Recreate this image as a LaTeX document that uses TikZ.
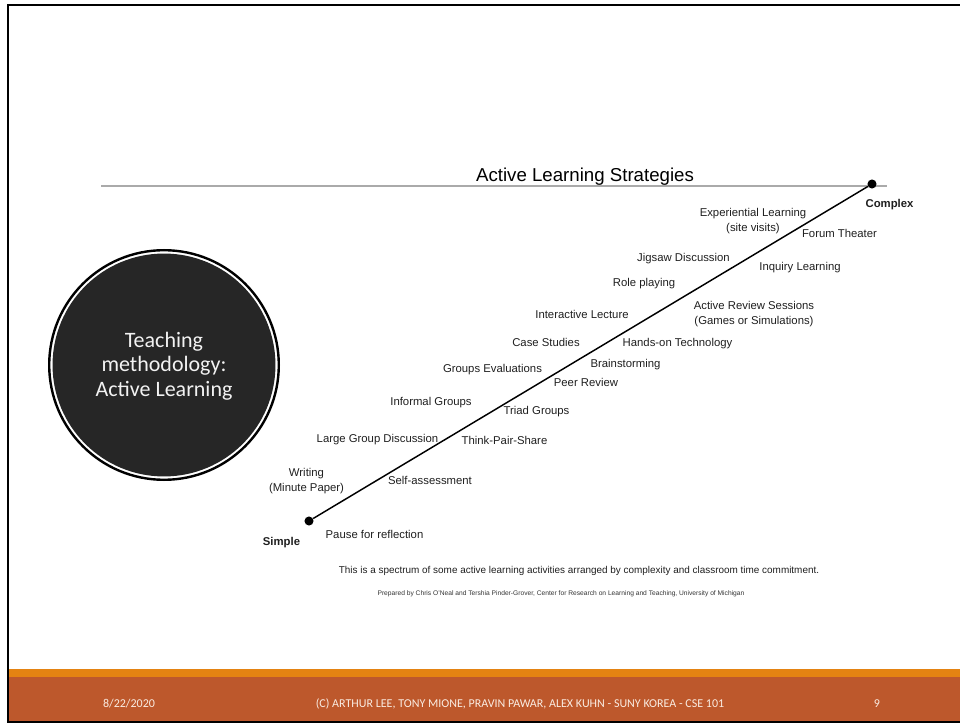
\documentclass[tikz,border=0pt]{standalone}
\usepackage{fontspec}
\setmainfont{Liberation Sans}
\newfontfamily\calibfont{Carlito}

\definecolor{barorange}{RGB}{228,131,18}
\definecolor{barrust}{RGB}{189,88,44}
\definecolor{discgray}{RGB}{38,38,38}
\definecolor{foottext}{RGB}{250,236,226}
\definecolor{rulegray}{RGB}{170,170,170}

\tikzset{
  strategy/.style={anchor=base, inner sep=0pt, align=center, text=black!88,
    font=\fontsize{8.5}{11.25}\selectfont},
  endlabel/.style={strategy, font=\fontsize{8.5}{10}\selectfont\bfseries},
  enddot/.style={circle, fill=black, inner sep=0pt, minimum size=6.8pt},
  footer/.style={anchor=base, inner sep=0pt, text=foottext,
    font=\calibfont\fontsize{9}{11}\selectfont},
}

\begin{document}
\begin{tikzpicture}[x=0.75pt,y=-0.75pt]
  \useasboundingbox (0,0) rectangle (960,723);

  % footer bar
  \fill[barorange] (8,669) rectangle (962,677);
  \fill[barrust] (8,677) rectangle (962,722);
  \node[footer] (date) at (129,707) {8/22/2020};
  \node[footer] (credit) at (520,707) {(C) ARTHUR LEE, TONY MIONE, PRAVIN PAWAR, ALEX KUHN - SUNY KOREA - CSE 101};
  \node[footer] (pageno) at (877,707) {9};

  % slide frame
  \draw[line width=1.5pt] (8,5) rectangle (962,722);

  % topic disc
  \draw[line width=1.8pt] (164,365) circle (86.1pt);
  \fill[discgray] (164,365) circle (83.6pt);
  \node[align=center, text=white!95!black, font=\calibfont\fontsize{16.5}{18.4}\selectfont]
    (topic) at (164,366) {Teaching\\methodology:\\Active Learning};

  % title and rule
  \draw[rulegray, line width=1.1pt] (101,186) -- (887,186);
  \node[anchor=base, inner sep=0pt, font=\fontsize{14}{16}\selectfont] (title) at (585,182)
    {Active Learning Strategies};

  % Drawing the spectrum from simple to complex
  \node[enddot] (simple) at (309,521) {};
  \node[enddot] (complex) at (872,184) {};
  \draw[line width=1.1pt] (simple) -- (complex);
  \node[endlabel] (simplelbl) at (281.5,545) {Simple};
  \node[endlabel] (complexlbl) at (889.5,208) {Complex};

  % Marking strategies above the line (two-line labels sit on their last line)
  \node[strategy] (writing) at (306.5,491) {Writing\\(Minute Paper)};
  \node[strategy] (largegroup) at (377.5,442) {Large Group Discussion};
  \node[strategy] (informal) at (431,406) {Informal Groups};
  \node[strategy] (groupeval) at (492.5,372.5) {Groups Evaluations};
  \node[strategy] (cases) at (546,347) {Case Studies};
  \node[strategy] (lecture) at (582,319) {Interactive Lecture};
  \node[strategy] (role) at (644,286.5) {Role playing};
  \node[strategy] (jigsaw) at (683.5,261.5) {Jigsaw Discussion};
  \node[strategy] (experiential) at (753,231.5) {Experiential Learning\\(site visits)};

  % Marking strategies below the line
  \node[strategy] (pause) at (374.5,538) {Pause for reflection};
  \node[strategy] (selfassess) at (430,484) {Self-assessment};
  \node[strategy] (tps) at (504.5,445) {Think-Pair-Share};
  \node[strategy] (triad) at (536.5,415) {Triad Groups};
  \node[strategy] (peer) at (586,387) {Peer Review};
  \node[strategy] (brainstorm) at (625.5,368) {Brainstorming};
  \node[strategy] (handson) at (677.5,346.5) {Hands-on Technology};
  \node[strategy] (review) at (754,325) {Active Review Sessions\\(Games or Simulations)};
  \node[strategy] (inquiry) at (800,270.5) {Inquiry Learning};
  \node[strategy] (forum) at (839.5,237.5) {Forum Theater};

  % notes under the spectrum
  \node[anchor=base, inner sep=0pt, text=black!88, font=\fontsize{7.45}{9}\selectfont] (spectrum) at (579,573)
    {This is a spectrum of some active learning activities arranged by complexity and classroom time commitment.};
  \node[anchor=base, inner sep=0pt, text=black!80, font=\fontsize{5}{6}\selectfont] (prepared) at (561,595)
    {Prepared by Chris O'Neal and Tershia Pinder-Grover, Center for Research on Learning and Teaching, University of Michigan};
\end{tikzpicture}
\end{document}
